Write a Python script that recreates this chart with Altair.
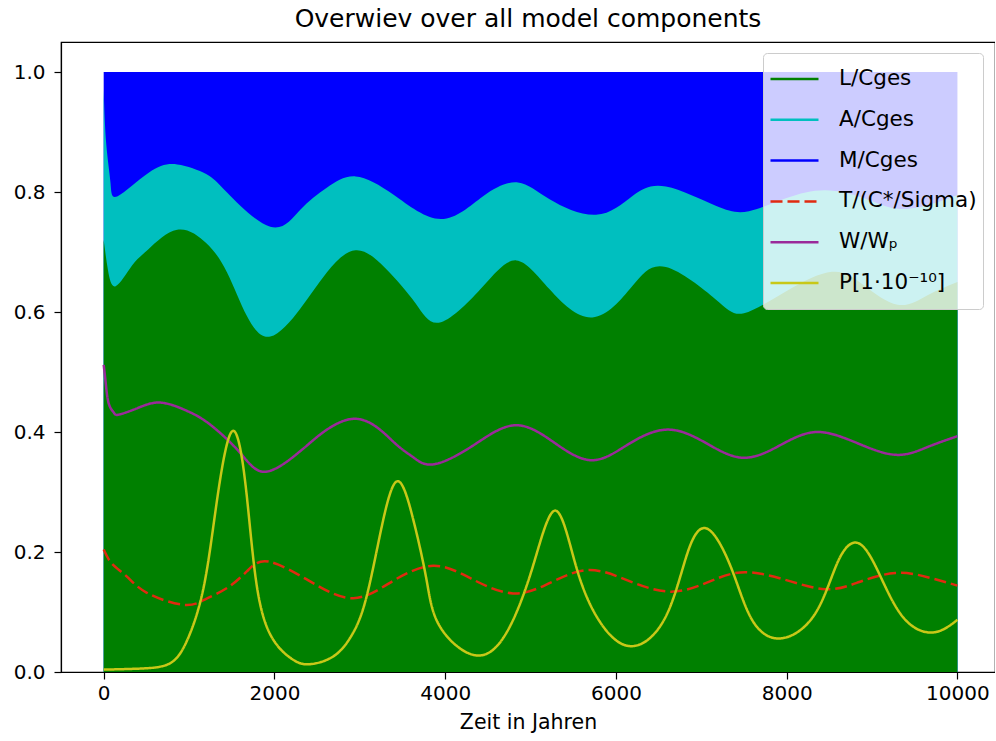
import altair as alt
import pandas as pd

# ---- data ----
# stacked area boundaries (cumulative): L/Cges top, (L+A)/Cges top, total = 1
l_time = [0, 50, 140, 330, 527, 861, 1200, 1445, 1679, 1951, 2300, 2613, 2950, 3300, 3650, 3950,
          4444, 4833, 5223, 5724, 6190, 6585, 7169, 7500, 8000, 8530, 8900, 9300, 9650, 10000]
l_top = [0.72, 0.67, 0.643, 0.677, 0.705, 0.737, 0.715, 0.666, 0.593, 0.559, 0.605, 0.666, 0.703,
         0.673, 0.615, 0.583, 0.643, 0.686, 0.638, 0.591, 0.643, 0.675, 0.621, 0.598, 0.635, 0.667,
         0.645, 0.612, 0.628, 0.65]

la_time = [0, 30, 80, 164, 527, 861, 1200, 1445, 1951, 2300, 2613, 2950, 3400, 3950, 4444, 4852,
           5223, 5767, 6190, 6585, 7169, 7558, 8000, 8450, 8900, 9300, 9700, 10000]
la_top = [0.97, 0.88, 0.815, 0.793, 0.832, 0.846, 0.83, 0.799, 0.742, 0.77, 0.807, 0.826, 0.795,
          0.755, 0.793, 0.816, 0.788, 0.762, 0.793, 0.809, 0.777, 0.768, 0.79, 0.803, 0.79, 0.772,
          0.78, 0.795]

total_time = [0, 10000]
total_top = [1.0, 1.0]

t_time = [0, 100, 272, 506, 938, 1200, 1445, 1679, 1931, 2418, 2924, 3391, 3859, 4300, 4794,
          5250, 5689, 6150, 6624, 7050, 7461, 7950, 8455, 8850, 9272, 9650, 10000]
t_val = [0.204, 0.18, 0.159, 0.132, 0.112, 0.122, 0.14, 0.168, 0.184, 0.151, 0.123, 0.152, 0.177,
         0.156, 0.131, 0.15, 0.17, 0.152, 0.134, 0.148, 0.166, 0.155, 0.138, 0.15, 0.165, 0.158, 0.144]

w_time = [0, 25, 60, 120, 179, 400, 666, 978, 1250, 1600, 1912, 2301, 2418, 2924, 3391, 3625, 3859,
          4300, 4794, 5250, 5709, 6150, 6604, 7050, 7500, 7950, 8356, 8800, 9272, 9650, 10000]
w_val = [0.512, 0.48, 0.447, 0.432, 0.429, 0.44, 0.449, 0.435, 0.412, 0.365, 0.334, 0.368, 0.382,
         0.422, 0.384, 0.358, 0.346, 0.375, 0.411, 0.385, 0.353, 0.38, 0.404, 0.382, 0.357, 0.38,
         0.400, 0.383, 0.362, 0.375, 0.393]

p_time = [0, 471, 783, 978, 1172, 1328, 1503, 1659, 1795, 1990, 2224, 2418, 2690, 2900, 3080, 3275,
          3450, 3626, 3781, 3937, 4346, 4716, 5027, 5292, 5533, 5806, 6175, 6586, 6854, 7091, 7360,
          7594, 7929, 8337, 8610, 8863, 9116, 9389, 9720, 10000]
p_val = [0.004, 0.006, 0.015, 0.053, 0.142, 0.287, 0.401, 0.315, 0.142, 0.053, 0.020, 0.013, 0.026,
         0.06, 0.126, 0.254, 0.318, 0.254, 0.154, 0.076, 0.028, 0.065, 0.176, 0.269, 0.176, 0.085,
         0.043, 0.093, 0.205, 0.237, 0.170, 0.087, 0.056, 0.098, 0.187, 0.213, 0.154, 0.087, 0.066,
         0.087]

series_names = ["L/Cges", "A/Cges", "M/Cges", "T/(C*/Sigma)", "W/Wₚ", "P[1·10⁻¹⁰]"]
series_colors = ["#008000", "#00bfbf", "#0000ff", "#e02a10", "#9a2a9a", "#c8c818"]
series_dash = [[1, 0], [1, 0], [1, 0], [12, 5], [1, 0], [1, 0]]

x_ticks = [0, 2000, 4000, 6000, 8000, 10000]
y_ticks = [0.0, 0.2, 0.4, 0.6, 0.8, 1.0]

# ---- frames ----
def frame(t, v, name):
    return pd.DataFrame({"t": t, "v": v, "series": name})

lines_df = pd.concat([
    frame(t_time, t_val, series_names[3]),
    frame(w_time, w_val, series_names[4]),
    frame(p_time, p_val, series_names[5]),
])

FONT = "DejaVu Sans"
CURVE = "natural"
x_scale = alt.Scale(domain=[-500, 10440], nice=False, zero=False)
y_scale = alt.Scale(domain=[0, 1.05], nice=False)

x_enc = alt.X("t:Q", scale=x_scale,
              axis=alt.Axis(values=x_ticks, title="Zeit in Jahren", grid=False, format="d"))
y_enc = alt.Y("v:Q", scale=y_scale,
              axis=alt.Axis(values=y_ticks, title=None, grid=False, format=".1f"))

def area(t, v, name, color, curve):
    return alt.Chart(frame(t, v, name)).mark_area(
        color=color, interpolate=curve, opacity=1, clip=True
    ).encode(x=x_enc, y=y_enc)

blue_area = area(total_time, total_top, "M", series_colors[2], "linear")
cyan_area = area(la_time, la_top, "A", series_colors[1], CURVE)
green_area = area(l_time, l_top, "L", series_colors[0], CURVE)

lines = alt.Chart(lines_df).mark_line(interpolate=CURVE, strokeWidth=2.5, clip=True).encode(
    x=x_enc,
    y=y_enc,
    color=alt.Color("series:N", scale=alt.Scale(domain=series_names, range=series_colors),
                    sort=series_names,
                    legend=alt.Legend(
                        title=None, orient="none", legendX=702, legendY=11,
                        symbolType="stroke", symbolSize=2304, symbolStrokeWidth=2.5,
                        clipHeight=40, rowPadding=0.8, padding=6,
                        labelFontSize=21.5, labelFont=FONT, labelColor="black",
                        labelOffset=19, labelLimit=400,
                        fillColor="rgba(255,255,255,0.8)", strokeColor="#cccccc",
                        cornerRadius=4)),
    strokeDash=alt.StrokeDash("series:N",
                              scale=alt.Scale(domain=series_names, range=series_dash),
                              sort=series_names, legend=None),
)

chart = alt.layer(blue_area, cyan_area, green_area, lines).properties(
    width=934, height=630,
    title=alt.TitleParams("Overwiev over all model components", font=FONT, fontSize=25,
                          fontWeight="normal", color="black", anchor="middle", offset=10),
    padding={"left": 61, "top": 42, "right": 0, "bottom": 69},
    autosize=alt.AutoSizeParams(type="none"),
).configure_view(stroke="black", strokeWidth=1.2).configure_axis(
    labelFont=FONT, labelFontSize=20, labelColor="black", titleFont=FONT, titleFontSize=20.5,
    titleFontWeight="normal", titleColor="black", domainColor="black", tickColor="black",
    tickSize=7, domainWidth=1.2, tickWidth=1.2,
).configure_axisX(labelPadding=4, titlePadding=9).configure_axisY(labelPadding=9)

chart.save("out.html", embed_options={"renderer": "svg", "actions": False})
